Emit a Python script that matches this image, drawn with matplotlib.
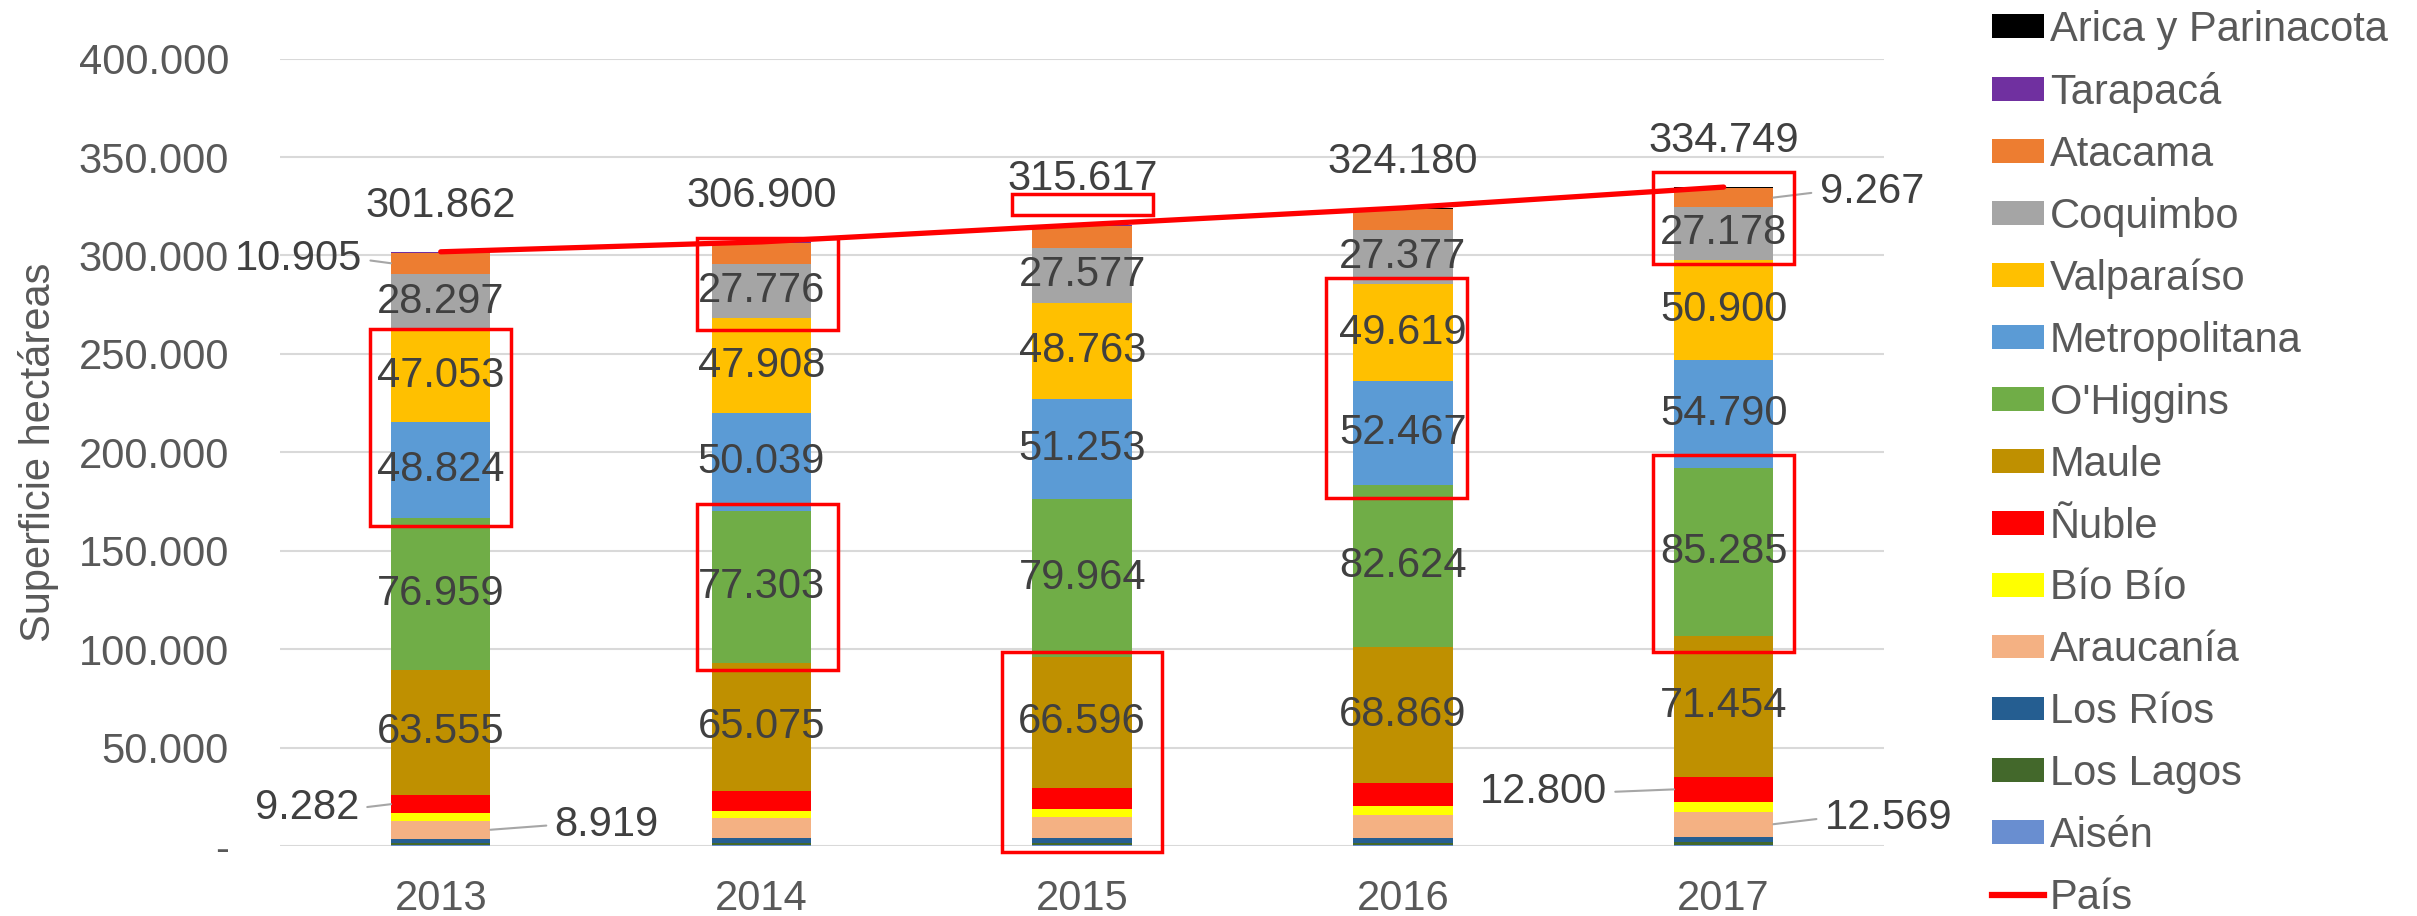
import matplotlib
matplotlib.use("Agg")
import matplotlib.pyplot as plt
from matplotlib.patches import Rectangle, Patch
from matplotlib.lines import Line2D
import numpy as np

plt.rcParams['font.family'] = ['Liberation Sans', 'DejaVu Sans']

years = ['2013', '2014', '2015', '2016', '2017']

# regiones, de abajo hacia arriba en la pila (hectáreas)
aisen = [300, 400, 400, 400, 400]
los_lagos = [1100, 1200, 1200, 1200, 1400]
los_rios = [2400, 2500, 2700, 2700, 3000]
araucania = [8919, 9900, 10400, 11600, 12569]
bio_bio = [3900, 4000, 4200, 4400, 5000]
nuble = [9282, 9700, 10600, 11800, 12800]
maule = [63555, 65075, 66596, 68869, 71454]
ohiggins = [76959, 77303, 79964, 82624, 85285]
metropolitana = [48824, 50039, 51253, 52467, 54790]
valparaiso = [47053, 47908, 48763, 49619, 50900]
coquimbo = [28297, 27776, 27577, 27377, 27178]
atacama = [10905, 10700, 11500, 10600, 9267]
tarapaca = [100, 100, 100, 100, 100]
arica = [268, 299, 364, 424, 606]

pais = [301862, 306900, 315617, 324180, 334749]

series = [
    ('Aisén', aisen, '#698ED0'),
    ('Los Lagos', los_lagos, '#43682B'),
    ('Los Ríos', los_rios, '#255E91'),
    ('Araucanía', araucania, '#F4B183'),
    ('Bío Bío', bio_bio, '#FFFF00'),
    ('Ñuble', nuble, '#FF0000'),
    ('Maule', maule, '#BF9000'),
    ("O'Higgins", ohiggins, '#70AD47'),
    ('Metropolitana', metropolitana, '#5B9BD5'),
    ('Valparaíso', valparaiso, '#FFC000'),
    ('Coquimbo', coquimbo, '#A5A5A5'),
    ('Atacama', atacama, '#ED7D31'),
    ('Tarapacá', tarapaca, '#7030A0'),
    ('Arica y Parinacota', arica, '#000000'),
]

# series con etiqueta centrada en todas las barras
centered = ['Maule', "O'Higgins", 'Metropolitana', 'Valparaíso', 'Coquimbo']

# etiquetas sueltas con línea guía: (serie, año idx, x texto, y texto, alineación)
callouts = [
    ('Atacama', 0, -0.245, 298000, 'right'),
    ('Ñuble', 0, -0.255, 19300, 'right'),
    ('Araucanía', 0, 0.355, 10700, 'left'),
    ('Ñuble', 4, 3.636, 27400, 'right'),
    ('Araucanía', 4, 4.315, 14200, 'left'),
    ('Atacama', 4, 4.299, 332300, 'left'),
]

# recuadros rojos de resaltado: (año idx, dx izq, dx der, y abajo, y arriba)
boxes = [
    (0, -0.22, 0.22, 162800, 262700),
    (1, -0.20, 0.24, 262000, 309000),
    (1, -0.20, 0.24, 89400, 173800),
    (2, -0.22, 0.22, 320600, 331000),
    (2, -0.25, 0.25, -3000, 98600),
    (3, -0.24, 0.20, 177000, 288600),
    (4, -0.22, 0.22, 295700, 342500),
    (4, -0.22, 0.22, 98600, 198800),
]


def fmt(v):
    return f"{v:,}".replace(',', '.')


fig = plt.figure(figsize=(24.17, 9.16), dpi=100)
ax = fig.add_axes([0.116, 0.0764, 0.6635, 0.8596])

x = np.arange(len(years))
width = 0.31
bottom = np.zeros(len(years))
tops = {}
handles = []
for name, vals, color in series:
    vals = np.array(vals, dtype=float)
    ax.bar(x, vals, width, bottom=bottom, color=color, zorder=2)
    tops[name] = (bottom.copy(), vals)
    if name in centered:
        for i in range(len(years)):
            ax.text(x[i], bottom[i] + vals[i] / 2, fmt(int(vals[i])),
                    ha='center', va='center', fontsize=30, color='#404040', zorder=4)
    bottom = bottom + vals
    handles.append(Patch(facecolor=color, label=name))

for name, i, tx, ty, ha in callouts:
    b, v = tops[name]
    edge = x[i] - width / 2 if ha == 'right' else x[i] + width / 2
    ax.annotate(fmt(int(v[i])), xy=(edge, b[i] + v[i] / 2), xytext=(tx, ty),
                ha=ha, va='center', fontsize=30, color='#404040',
                arrowprops=dict(arrowstyle='-', color='#A6A6A6', lw=1.5,
                                shrinkA=4, shrinkB=0,
                                relpos=(1, 0.5) if ha == 'right' else (0, 0.5)),
                zorder=4)

line, = ax.plot(x, pais, color='#FF0000', lw=3.8, zorder=3, solid_capstyle='round')
for i in range(len(years)):
    ax.annotate(fmt(pais[i]), xy=(x[i], pais[i]), xytext=(0, 33),
                textcoords='offset points', ha='center', va='center',
                fontsize=30, color='#404040', zorder=4)

for i, d0, d1, y0, y1 in boxes:
    ax.add_patch(Rectangle((x[i] + d0, y0), d1 - d0, y1 - y0, fill=False,
                           edgecolor='#FF0000', lw=2.5, zorder=5, clip_on=False))

ax.set_xlim(-0.5, 4.5)
ax.set_ylim(0, 400000)
yt = np.arange(0, 400001, 50000)
ax.set_yticks(yt)
ax.set_yticklabels(['-'] + [fmt(int(v)) for v in yt[1:]])
ax.set_xticks(x)
ax.set_xticklabels(years)
ax.tick_params(axis='y', length=0, pad=37, labelsize=30, labelcolor='#595959')
ax.tick_params(axis='x', length=0, pad=24, labelsize=30, labelcolor='#595959')
ax.grid(axis='y', color='#D9D9D9', lw=1.5, zorder=0)
ax.set_axisbelow(True)
for s in ax.spines.values():
    s.set_visible(False)
ax.set_ylabel('Superficie hectáreas', fontsize=30, color='#595959', labelpad=14)

handles = handles[::-1] + [Line2D([], [], color='#FF0000', lw=4.5, label='País')]
fig.legend(handles=handles, loc='upper left', bbox_to_anchor=(0.824, 0.989),
           frameon=False, fontsize=30, labelcolor='#595959',
           handlelength=1.25, handleheight=0.5, handletextpad=0.15,
           labelspacing=0.525, borderpad=0.0, borderaxespad=0.0)

fig.savefig('out.png', dpi=100)
